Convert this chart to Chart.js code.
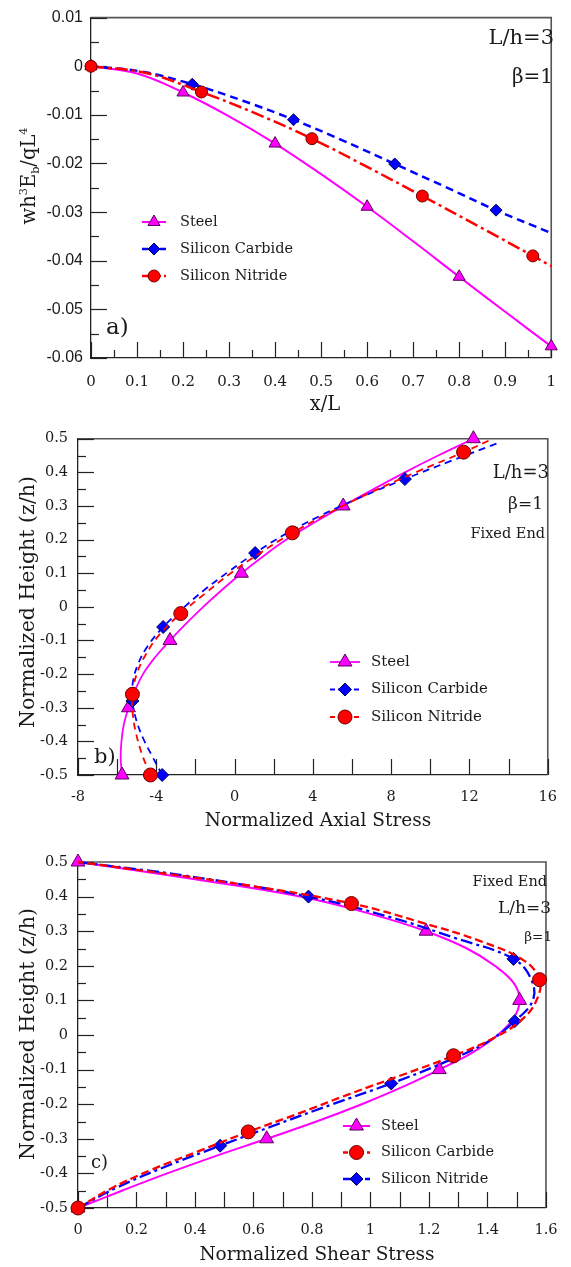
<!DOCTYPE html>
<html>
<head>
<meta charset="utf-8">
<script src="https://cdn.jsdelivr.net/npm/chart.js@4.4.1/dist/chart.umd.min.js"></script>
<style>
  body { margin: 0; background: #fff; }
  #wrap { position: relative; width: 571px; height: 1267px; }
  canvas { position: absolute; left: 0; }
</style>
</head>
<body>
<div id="wrap">
  <canvas id="chartA" width="571" height="420" style="top:0"></canvas>
  <canvas id="chartB" width="571" height="420" style="top:420px"></canvas>
  <canvas id="chartC" width="571" height="427" style="top:840px"></canvas>
</div>
<script>
// ---- panel a) deflection along the beam
const aXTicks = [0, 0.1, 0.2, 0.3, 0.4, 0.5, 0.6, 0.7, 0.8, 0.9, 1];
const aXLabels = ['0', '0.1', '0.2', '0.3', '0.4', '0.5', '0.6', '0.7', '0.8', '0.9', '1'];
const aYTicks = [-0.06, -0.05, -0.04, -0.03, -0.02, -0.01, 0, 0.01];
const aYLabels = ['-0.06', '-0.05', '-0.04', '-0.03', '-0.02', '-0.01', '0', '0.01'];

const aSteelX = [0, 0.1, 0.2, 0.3, 0.4, 0.5, 0.6, 0.7, 0.8, 0.9, 1];
const aSteelY = [0, -0.0015, -0.0054, -0.0103, -0.0159, -0.0222, -0.0289, -0.036, -0.0433, -0.0505, -0.0576];
const aSiCX = [0, 0.11, 0.22, 0.33, 0.44, 0.55, 0.66, 0.77, 0.88, 1];
const aSiCY = [0, -0.0011, -0.0037, -0.0071, -0.011, -0.0154, -0.0201, -0.0248, -0.0296, -0.0343];
const aSiNX = [0, 0.12, 0.24, 0.36, 0.48, 0.6, 0.72, 0.84, 0.96, 1];
const aSiNY = [0, -0.0014, -0.0053, -0.0098, -0.0149, -0.0207, -0.0267, -0.0328, -0.039, -0.0411];

// ---- panel b) axial stress through the height
const bXTicks = [-8, -4, 0, 4, 8, 12, 16];
const bXLabels = ['-8', '-4', '0', '4', '8', '12', '16'];
const zTicks = [-0.5, -0.4, -0.3, -0.2, -0.1, 0, 0.1, 0.2, 0.3, 0.4, 0.5];
const zLabels = ['-0.5', '-0.4', '-0.3', '-0.2', '-0.1', '0', '0.1', '0.2', '0.3', '0.4', '0.5'];

const bSteelZ = [-0.5, -0.45, -0.4, -0.35, -0.3, -0.25, -0.2, -0.15, -0.1, -0.05, 0, 0.05, 0.1, 0.15, 0.2, 0.25, 0.3, 0.35, 0.4, 0.45, 0.5];
const bSteelS = [-5.75, -5.82, -5.78, -5.66, -5.42, -5.1, -4.68, -4.06, -3.3, -2.48, -1.6, -0.65, 0.35, 1.45, 2.65, 4.05, 5.55, 7.1, 8.7, 10.4, 12.2];
const bSiCZ = [-0.5, -0.445, -0.39, -0.335, -0.28, -0.225, -0.17, -0.115, -0.06, -0.005, 0.05, 0.105, 0.16, 0.215, 0.27, 0.325, 0.38, 0.435, 0.49];
const bSiCS = [-3.7, -4.2, -4.68, -5.03, -5.22, -5.2, -4.93, -4.42, -3.65, -2.65, -1.55, -0.3, 1.05, 2.55, 4.35, 6.4, 8.7, 11.1, 13.6];
const bSiNZ = [-0.5, -0.44, -0.38, -0.32, -0.26, -0.2, -0.14, -0.08, -0.02, 0.04, 0.1, 0.16, 0.22, 0.28, 0.34, 0.4, 0.46, 0.5];
const bSiNS = [-4.3, -4.72, -5.02, -5.2, -5.22, -5.0, -4.52, -3.8, -2.75, -1.5, -0.2, 1.3, 2.95, 4.85, 6.95, 9.25, 11.7, 13.2];

// ---- panel c) shear stress through the height
const cXTicks = [0, 0.2, 0.4, 0.6, 0.8, 1, 1.2, 1.4, 1.6];
const cXLabels = ['0', '0.2', '0.4', '0.6', '0.8', '1', '1.2', '1.4', '1.6'];

const cSteelZ = [-0.5, -0.45, -0.4, -0.35, -0.3, -0.25, -0.2, -0.15, -0.1, -0.05, 0, 0.05, 0.1, 0.15, 0.2, 0.25, 0.3, 0.35, 0.4, 0.45, 0.5];
const cSteelS = [0, 0.15, 0.305, 0.47, 0.645, 0.815, 0.97, 1.11, 1.235, 1.35, 1.435, 1.49, 1.51, 1.49, 1.425, 1.33, 1.19, 1.0, 0.76, 0.4, 0];
const cSiCZ = [-0.5, -0.445, -0.39, -0.335, -0.28, -0.225, -0.17, -0.115, -0.06, -0.005, 0.05, 0.105, 0.16, 0.215, 0.27, 0.325, 0.38, 0.435, 0.49, 0.5];
const cSiCS = [0, 0.11, 0.25, 0.415, 0.582, 0.76, 0.93, 1.11, 1.284, 1.43, 1.525, 1.57, 1.578, 1.525, 1.38, 1.175, 0.935, 0.56, 0.09, 0];
const cSiNZ = [-0.5, -0.44, -0.38, -0.32, -0.26, -0.2, -0.14, -0.08, -0.02, 0.04, 0.1, 0.16, 0.22, 0.28, 0.34, 0.4, 0.46, 0.5];
const cSiNS = [0, 0.135, 0.3, 0.486, 0.675, 0.87, 1.071, 1.25, 1.4, 1.493, 1.555, 1.55, 1.489, 1.29, 1.07, 0.788, 0.37, 0];

const seriesNames = ['Steel', 'Silicon Carbide', 'Silicon Nitride'];

const serif = "'DejaVu Serif', serif";
const sans = "'Liberation Sans', Arial, sans-serif";
const ink = '#1a1a1a';

// line + marker looks
const magenta = { color: '#ff00ff', fill: '#ff00ff', edge: '#5a005a', marker: 'triangle' };
const blue = { color: '#0000ff', fill: '#0000ff', edge: '#00005a', marker: 'rectRot' };
const red = { color: '#ff0000', fill: '#ff0000', edge: '#6a0000', marker: 'circle' };

function pts(xs, ys) {
  return xs.map((v, i) => ({ x: v, y: ys[i] }));
}

function series(data, look, st) {
  return {
    data: data,
    showLine: true,
    fill: false,
    tension: 0.4,
    clip: false,
    borderColor: look.color,
    borderWidth: st.width,
    borderDash: st.dash || [],
    pointStyle: look.marker,
    pointBackgroundColor: look.fill,
    pointBorderColor: look.edge,
    pointBorderWidth: 1,
    pointRadius: c => (c.dataIndex % st.every === 0 ? st.r : 0),
    pointHoverRadius: 0,
    order: st.order
  };
}

function axis(min, max, ticks, labels, o) {
  return {
    type: 'linear',
    min: min,
    max: max,
    grid: { display: false, drawTicks: false },
    border: { display: true, color: '#222', width: 1.3 },
    afterBuildTicks: s => { s.ticks = ticks.map(v => ({ value: v })); },
    afterFit: s => {
      if (o.w) s.width = o.w;
      if (o.h) s.height = o.h;
    },
    ticks: {
      autoSkip: false,
      maxRotation: 0,
      padding: o.pad,
      color: ink,
      font: { family: o.family || serif, size: o.size },
      callback: (v, i) => labels[i]
    }
  };
}

function marks(scale, step, major) {
  const out = [];
  const n = Math.round((scale.max - scale.min) / step);
  for (let i = 0; i <= n; i++) {
    const v = scale.min + i * step;
    const k = v / major;
    out.push([v, Math.abs(k - Math.round(k)) < 1e-6]);
  }
  return out;
}

function drawMarker(ctx, look, r, x, y) {
  ctx.save();
  ctx.fillStyle = look.fill;
  ctx.strokeStyle = look.edge;
  ctx.lineWidth = 1;
  ctx.setLineDash([]);
  ctx.beginPath();
  if (look.marker === 'circle') {
    ctx.arc(x, y, r, 0, Math.PI * 2);
  } else if (look.marker === 'rectRot') {
    ctx.moveTo(x - r, y); ctx.lineTo(x, y - r); ctx.lineTo(x + r, y); ctx.lineTo(x, y + r);
  } else {
    const h = r * Math.sqrt(3) / 2;
    ctx.moveTo(x, y - r); ctx.lineTo(x + h, y + r / 2); ctx.lineTo(x - h, y + r / 2);
  }
  ctx.closePath();
  ctx.fill();
  ctx.stroke();
  ctx.restore();
}

function text(ctx, s, x, y, size, align, family) {
  ctx.font = size + 'px ' + (family || serif);
  ctx.textAlign = align || 'left';
  ctx.textBaseline = 'middle';
  ctx.fillStyle = ink;
  ctx.fillText(s, x, y);
}

// rotated axis title made of pieces: [text, shift (em), scale]
function richTitle(ctx, parts, cx, cy, size) {
  ctx.save();
  ctx.translate(cx, cy);
  ctx.rotate(-Math.PI / 2);
  ctx.fillStyle = ink;
  ctx.textBaseline = 'alphabetic';
  ctx.textAlign = 'left';
  let w = 0;
  parts.forEach(p => { ctx.font = (size * p[2]) + 'px ' + serif; w += ctx.measureText(p[0]).width; });
  let x = -w / 2;
  parts.forEach(p => {
    ctx.font = (size * p[2]) + 'px ' + serif;
    ctx.fillText(p[0], x, size * 0.36 + p[1] * size);
    x += ctx.measureText(p[0]).width;
  });
  ctx.restore();
}

function deco(cfg) {
  return {
    id: 'deco',
    beforeDatasetsDraw(chart) {
      const { ctx, chartArea: a, scales: { x, y } } = chart;
      ctx.save();
      ctx.strokeStyle = '#555';
      ctx.lineWidth = 1.6;
      ctx.beginPath();
      ctx.moveTo(a.left, a.top);
      ctx.lineTo(a.right, a.top);
      ctx.lineTo(a.right, a.bottom);
      ctx.stroke();
      ctx.strokeStyle = '#222';
      ctx.lineWidth = 1.2;
      marks(x, cfg.xStep, cfg.xMajor).forEach(([v, big]) => {
        const p = Math.round(x.getPixelForValue(v)) + 0.5;
        ctx.beginPath();
        ctx.moveTo(p, a.bottom);
        ctx.lineTo(p, a.bottom - (big ? cfg.xLong : cfg.xShort));
        ctx.stroke();
      });
      marks(y, cfg.yStep, cfg.yMajor).forEach(([v, big]) => {
        const p = Math.round(y.getPixelForValue(v)) + 0.5;
        ctx.beginPath();
        ctx.moveTo(a.left, p);
        ctx.lineTo(a.left + (big ? cfg.yLong : cfg.yShort), p);
        ctx.stroke();
      });
      ctx.restore();
    },
    afterDatasetsDraw(chart) {
      const ctx = chart.ctx;
      ctx.save();
      const L = cfg.legend;
      L.items.forEach((it, i) => {
        const yy = L.y + i * L.dy;
        ctx.strokeStyle = it.look.color;
        ctx.lineWidth = it.width;
        ctx.setLineDash(it.dash || []);
        ctx.beginPath();
        ctx.moveTo(L.x0, yy);
        ctx.lineTo(L.x1, yy);
        ctx.stroke();
        ctx.setLineDash([]);
        drawMarker(ctx, it.look, it.r, (L.x0 + L.x1) / 2, yy);
        text(ctx, it.label, L.tx, yy, L.size);
      });
      cfg.notes.forEach(n => text(ctx, n[0], n[1], n[2], n[3], n[4]));
      const xt = cfg.xTitle;
      text(ctx, xt.text, xt.x, xt.y, xt.size, 'center');
      const yt = cfg.yTitle;
      richTitle(ctx, yt.parts, yt.x, yt.y, yt.size);
      ctx.restore();
    }
  };
}

function makeChart(id, datasets, scales, padding, cfg) {
  return new Chart(document.getElementById(id), {
    type: 'scatter',
    data: { datasets: datasets },
    options: {
      responsive: false,
      animation: false,
      events: [],
      layout: { padding: padding },
      plugins: { legend: { display: false }, tooltip: { enabled: false } },
      scales: scales
    },
    plugins: [deco(cfg)]
  });
}

// ---------- a)
const aSteelSt = { width: 2, every: 2, r: 7, order: 2 };
const aSiCSt = { width: 2.5, dash: [8, 5], every: 2, r: 6, order: 1 };
const aSiNSt = { width: 2.5, dash: [13, 4, 3, 4], every: 2, r: 6, order: 0 };
makeChart('chartA', [
  series(pts(aSteelX, aSteelY), magenta, aSteelSt),
  series(pts(aSiCX, aSiCY), blue, aSiCSt),
  series(pts(aSiNX, aSiNY), red, aSiNSt)
], {
  x: axis(0, 1, aXTicks, aXLabels, { h: 62, pad: 15, size: 15 }),
  y: axis(-0.06, 0.01, aYTicks, aYLabels, { w: 91, pad: 8, size: 16, family: sans })
}, { top: 13, right: 12, left: 0, bottom: 0 }, {
  xStep: 0.05, xMajor: 0.1, xLong: 16, xShort: 8,
  yStep: 0.005, yMajor: 0.01, yLong: 16, yShort: 8,
  legend: {
    x0: 142, x1: 166, tx: 180, y: 222, dy: 27, size: 14.5,
    items: [
      Object.assign({ label: seriesNames[0], look: magenta }, aSteelSt),
      Object.assign({ label: seriesNames[1], look: blue }, aSiCSt, { dash: [6, 3] }),
      Object.assign({ label: seriesNames[2], look: red }, aSiNSt, { dash: [8, 3] })
    ]
  },
  notes: [['L/h=3', 554, 39, 21, 'right'], ['\u03b2=1', 553, 78, 20, 'right'], ['a)', 106, 328, 23, 'left']],
  xTitle: { text: 'x/L', x: 325, y: 405, size: 19.5 },
  yTitle: { x: 28, y: 176, size: 19.5, parts: [['wh', 0, 1], ['3', -0.42, 0.58], ['E', 0, 1], ['b', 0.22, 0.58], ['/qL', 0, 1], ['4', -0.42, 0.58]] }
});

// ---------- b)
const bSteelSt = { width: 1.8, every: 4, r: 8, order: 2 };
const bSiCSt = { width: 1.8, dash: [7, 5], every: 4, r: 6.5, order: 1 };
const bSiNSt = { width: 1.8, dash: [7, 5], every: 4, r: 7, order: 0 };
makeChart('chartB', [
  series(pts(bSteelS, bSteelZ), magenta, bSteelSt),
  series(pts(bSiCS, bSiCZ), blue, bSiCSt),
  series(pts(bSiNS, bSiNZ), red, bSiNSt)
], {
  x: axis(-8, 16, bXTicks, bXLabels, { h: 65, pad: 14, size: 14.5 }),
  y: axis(-0.5, 0.5, zTicks, zLabels, { w: 78, pad: 10, size: 14.5 })
}, { top: 10, right: 14, left: 0, bottom: 0 }, {
  xStep: 2, xMajor: 2, xLong: 16, xShort: 16,
  yStep: 0.05, yMajor: 0.1, yLong: 16, yShort: 8,
  legend: {
    x0: 330, x1: 360, tx: 371, y: 242, dy: 27.5, size: 15,
    items: [
      Object.assign({ label: seriesNames[0], look: magenta }, bSteelSt),
      Object.assign({ label: seriesNames[1], look: blue }, bSiCSt, { dash: [5, 3] }),
      Object.assign({ label: seriesNames[2], look: red }, bSiNSt, { dash: [5, 3] })
    ]
  },
  notes: [['L/h=3', 549, 53, 18, 'right'], ['\u03b2=1', 543, 85, 17, 'right'], ['Fixed End', 545, 114, 14.5, 'right'], ['b)', 94, 338, 21, 'left']],
  xTitle: { text: 'Normalized Axial Stress', x: 318, y: 401, size: 18.5 },
  yTitle: { x: 27, y: 182, size: 20.5, parts: [['Normalized Height (z/h)', 0, 1]] }
});

// ---------- c)  (legend labels follow the reference: red = Silicon Carbide, blue = Silicon Nitride)
const cSteelSt = { width: 2, every: 4, r: 8, order: 2 };
const cSiCSt = { width: 2.3, dash: [8, 4], every: 4, r: 7, order: 0 };
const cSiNSt = { width: 2.3, dash: [12, 4, 3, 4], every: 3, r: 6.5, order: 1 };
makeChart('chartC', [
  series(pts(cSteelS, cSteelZ), magenta, cSteelSt),
  series(pts(cSiCS, cSiCZ), red, cSiCSt),
  series(pts(cSiNS, cSiNZ), blue, cSiNSt)
], {
  x: axis(0, 1.6, cXTicks, cXLabels, { h: 59, pad: 13.5, size: 14.5 }),
  y: axis(-0.5, 0.5, zTicks, zLabels, { w: 78, pad: 10, size: 14.5 })
}, { top: 22, right: 15, left: 0, bottom: 0 }, {
  xStep: 0.1, xMajor: 0.1, xLong: 16, xShort: 16,
  yStep: 0.05, yMajor: 0.1, yLong: 16, yShort: 8,
  legend: {
    x0: 343, x1: 370, tx: 381, y: 286, dy: 26.5, size: 14.5,
    items: [
      Object.assign({ label: seriesNames[0], look: magenta }, cSteelSt),
      Object.assign({ label: seriesNames[1], look: red }, cSiCSt, { dash: [5, 3] }),
      Object.assign({ label: seriesNames[2], look: blue }, cSiNSt, { dash: [8, 3] })
    ]
  },
  notes: [['Fixed End', 547, 42, 14.5, 'right'], ['L/h=3', 551, 69, 17, 'right'], ['\u03b2=1', 552, 97, 13.5, 'right'], ['c)', 91, 323, 18, 'left']],
  xTitle: { text: 'Normalized Shear Stress', x: 317, y: 415, size: 18.5 },
  yTitle: { x: 27, y: 194, size: 20.5, parts: [['Normalized Height (z/h)', 0, 1]] }
});
</script>
</body>
</html>
